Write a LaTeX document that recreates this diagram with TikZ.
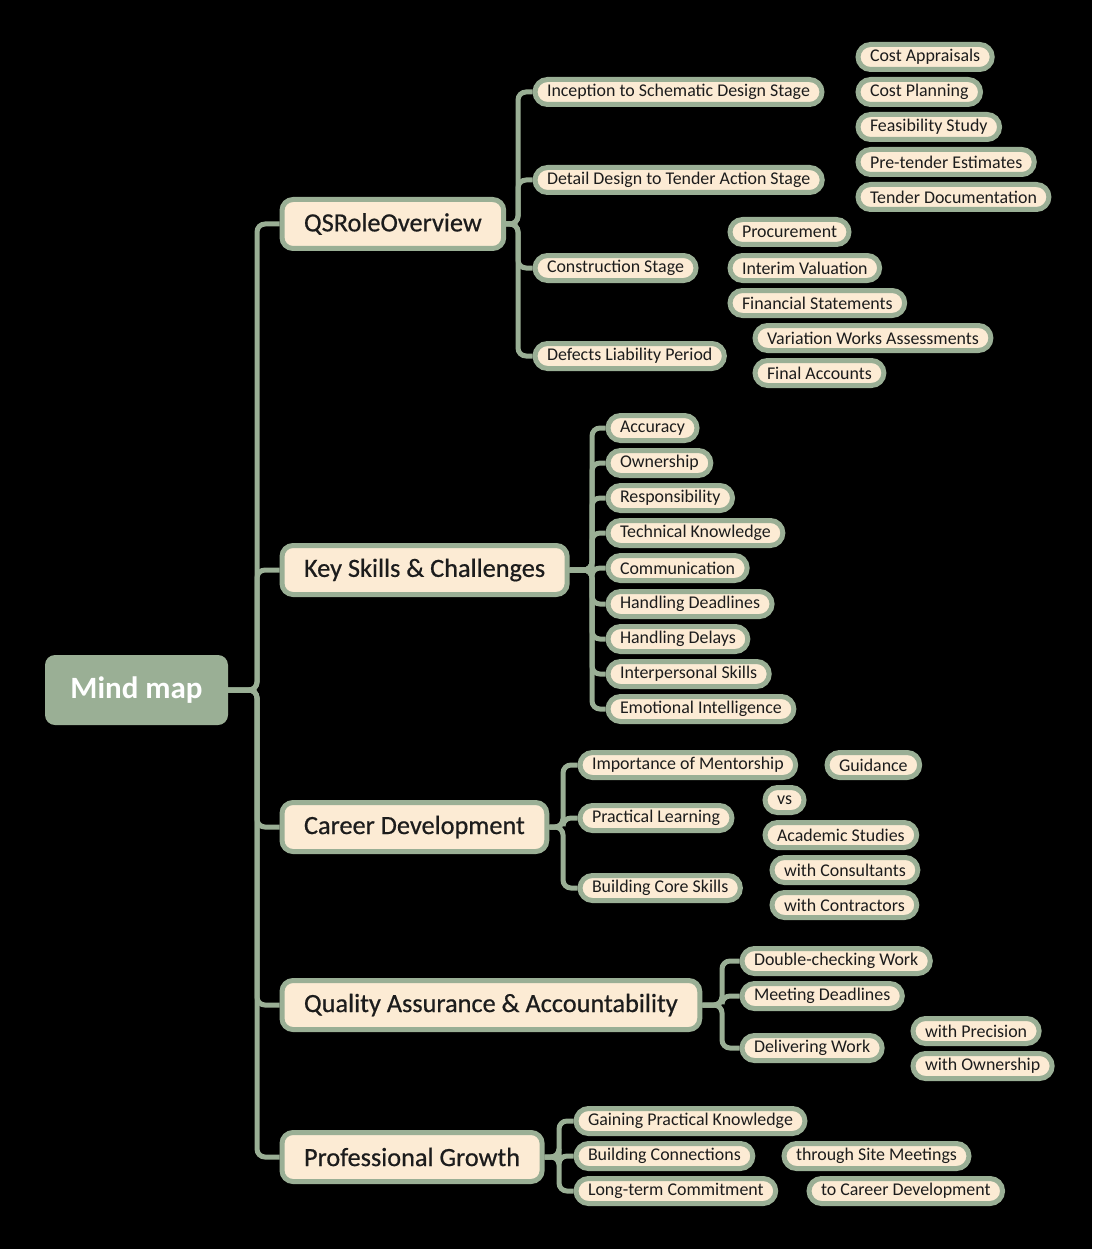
\documentclass[tikz,border=0pt]{standalone}
\usepackage{fontspec}
\setmainfont{Carlito}
\definecolor{sage}{HTML}{9AAF95}
\definecolor{cream}{HTML}{FCEBD4}
\definecolor{ink}{HTML}{1C1C1C}
\begin{document}
\begin{tikzpicture}[x=1pt,y=-1pt,
  leaf/.style={draw=sage, line width=5pt, fill=cream, rounded corners=12.5pt,
    minimum height=25pt, inner xsep=12pt, inner ysep=0pt, anchor=west,
    font=\fontsize{17.9}{19}\selectfont, text=ink},
  topic/.style={draw=sage, line width=5pt, fill=cream, rounded corners=11pt,
    minimum height=49pt, inner xsep=22pt, inner ysep=0pt, anchor=west,
    font=\fontsize{26.3}{30}\selectfont\addfontfeature{FakeBold=0.6}, text=ink},
  rootnode/.style={fill=sage, rounded corners=10pt, minimum width=183pt,
    minimum height=70pt, inner sep=0pt, font=\fontsize{31}{36}\selectfont\bfseries, text=white},
  link/.style={draw=sage, line width=5pt, rounded corners=8pt}]
\fill[black] (0,0) rectangle (1092,1249);
\useasboundingbox (0,0) rectangle (1092,1249);

% root
\node[rootnode] (root) at (136.5,690) {Mind map};

% level 1
\node[topic] (q) at (279.5,224) {QSRoleOverview};
\node[topic] (k) at (279.5,570) {Key Skills \& Challenges};
\node[topic] (c) at (279.5,827) {Career Development};
\node[topic] (a) at (279.5,1005) {Quality Assurance \& Accountability};
\node[topic] (p) at (279.5,1157) {Professional Growth};

\foreach \t in {q,k,c,a,p}{
  \draw[link] (root.east) -- (257,690) |- (\t.west);
}

% QS role children
\node[leaf] (q1) at (532.5,92) {Inception to Schematic Design Stage};
\node[leaf] (q2) at (532.5,180) {Detail Design to Tender Action Stage};
\node[leaf] (q3) at (532.5,268) {Construction Stage};
\node[leaf] (q4) at (532.5,356) {Defects Liability Period};
\foreach \t in {q1,q2,q3,q4}{
  \draw[link] (q.east) -- (518,224) |- (\t.west);
}
\node[leaf] (q11) at (855.5,57) {Cost Appraisals};
\node[leaf] (q12) at (855.5,92) {Cost Planning};
\node[leaf] (q13) at (855.5,127) {Feasibility Study};
\node[leaf] (q21) at (855.5,162) {Pre-tender Estimates};
\node[leaf] (q22) at (855.5,197) {Tender Documentation};
\node[leaf] (q31) at (727.5,232) {Procurement};
\node[leaf] (q32) at (727.5,268) {Interim Valuation};
\node[leaf] (q33) at (727.5,303) {Financial Statements};
\node[leaf] (q41) at (752.5,338) {Variation Works Assessments};
\node[leaf] (q42) at (752.5,373) {Final Accounts};

% Key skills children
\node[leaf] (k1) at (605.5,428) {Accuracy};
\node[leaf] (k2) at (605.5,463) {Ownership};
\node[leaf] (k3) at (605.5,498) {Responsibility};
\node[leaf] (k4) at (605.5,533) {Technical Knowledge};
\node[leaf] (k5) at (605.5,568) {Communication};
\node[leaf] (k6) at (605.5,604) {Handling Deadlines};
\node[leaf] (k7) at (605.5,639) {Handling Delays};
\node[leaf] (k8) at (605.5,674) {Interpersonal Skills};
\node[leaf] (k9) at (605.5,709) {Emotional Intelligence};
\foreach \t in {k1,k2,k3,k4,k5,k6,k7,k8,k9}{
  \draw[link] (k.east) -- (592,570) |- (\t.west);
}

% Career development children
\node[leaf] (c1) at (577.5,765) {Importance of Mentorship};
\node[leaf] (c2) at (577.5,818) {Practical Learning};
\node[leaf] (c3) at (577.5,888) {Building Core Skills};
\foreach \t in {c1,c2,c3}{
  \draw[link] (c.east) -- (563,827) |- (\t.west);
}
\node[leaf] (c11) at (824.5,765) {Guidance};
\node[leaf] (c21) at (762.5,800) {vs};
\node[leaf] (c22) at (762.5,835) {Academic Studies};
\node[leaf] (c31) at (769.5,870) {with Consultants};
\node[leaf] (c32) at (769.5,905) {with Contractors};

% Quality assurance children
\node[leaf] (a1) at (739.5,961) {Double-checking Work};
\node[leaf] (a2) at (739.5,996) {Meeting Deadlines};
\node[leaf] (a3) at (739.5,1048) {Delivering Work};
\foreach \t in {a1,a2,a3}{
  \draw[link] (a.east) -- (722,1005) |- (\t.west);
}
\node[leaf] (a31) at (910.5,1031) {with Precision};
\node[leaf] (a32) at (910.5,1066) {with Ownership};

% Professional growth children
\node[leaf] (p1) at (573.5,1121) {Gaining Practical Knowledge};
\node[leaf] (p2) at (573.5,1156) {Building Connections};
\node[leaf] (p3) at (573.5,1191) {Long-term Commitment};
\foreach \t in {p1,p2,p3}{
  \draw[link] (p.east) -- (559,1157) |- (\t.west);
}
\node[leaf] (p21) at (781.5,1156) {through Site Meetings};
\node[leaf] (p31) at (806.5,1191) {to Career Development};
\end{tikzpicture}
\end{document}
